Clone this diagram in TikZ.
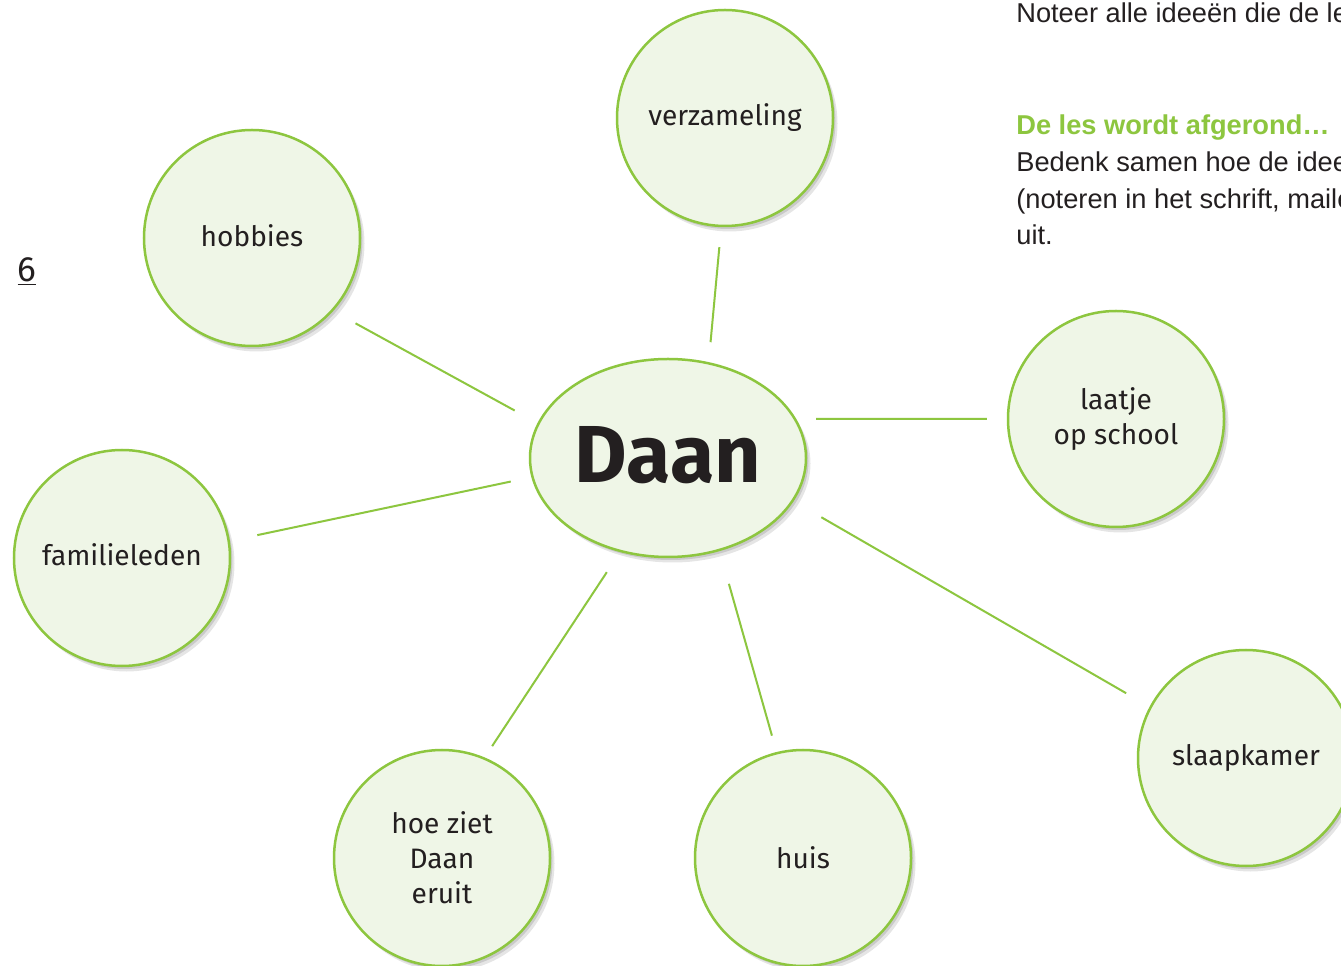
\documentclass[tikz,border=0pt]{standalone}
\usepackage{fontspec}
\setmainfont{Liberation Sans}
\newfontfamily\handfont{Fira Sans}
\usetikzlibrary{shapes.geometric,shadows}
\definecolor{leaf green}{RGB}{141,198,63}
\definecolor{pale green}{RGB}{239,246,231}
\definecolor{ink}{RGB}{35,31,32}

\tikzset{
	softshadow/.style={
		drop shadow={shadow xshift=0.9mm, shadow yshift=-1.1mm, fill=black, opacity=0.10},
		drop shadow={shadow xshift=0.5mm, shadow yshift=-0.6mm, fill=black, opacity=0.12}},
	idea/.style={circle, draw=leaf green, line width=0.5mm, fill=pale green,
		minimum size=43.2mm, inner sep=0pt, softshadow, align=center,
		font=\handfont\fontsize{16}{20}\selectfont, text=ink},
	hub/.style={ellipse, draw=leaf green, line width=0.5mm, fill=pale green,
		minimum width=55.2mm, minimum height=39.6mm, inner sep=0pt, softshadow,
		font=\handfont\bfseries\fontsize{46}{50}\selectfont, text=ink},
	spoke/.style={leaf green, line width=0.4mm},
	bodytext/.style={anchor=base west, inner sep=0pt, text=ink,
		font=\fontsize{15.5}{21}\selectfont}
}

\begin{document}
\begin{tikzpicture}[x=0.2mm, y=-0.2mm]
	\useasboundingbox[fill=white] (0,0) rectangle (1341,966);
	% page number
	\node[inner sep=0pt, font=\handfont\fontsize{20}{24}\selectfont, text=ink] (pagenr) at (27,272) {\underline{6}};
	% text at the top right
	\node[bodytext] (noteer) at (1016,23) {Noteer alle ideeën die de le};
	\node[bodytext, text=leaf green, font=\bfseries\fontsize{15.5}{21}\selectfont] (afgerond) at (1016,135) {De les wordt afgerond…};
	\node[bodytext] (bedenk) at (1016,172) {Bedenk samen hoe de idee};
	\node[bodytext] (noteren) at (1016,209) {(noteren in het schrift, maile};
	\node[bodytext] (uit) at (1016,245) {uit.};
	% centre
	\node[hub] (daan) at (668,458) {\raisebox{1.3mm}{Daan}};
	% ideas round it
	\node[idea] (verzameling) at (725,118) {\raisebox{1.2mm}{verzameling}};
	\node[idea] (hobbies) at (252,238) {\raisebox{1mm}{hobbies}};
	\node[idea] (laatje) at (1116,419) {laatje\\op school};
	\node[idea] (familie) at (122,558) {\raisebox{1.2mm}{familieleden}};
	\node[idea] (uiterlijk) at (442,858) {hoe ziet\\Daan\\eruit};
	\node[idea] (huis) at (803,858) {huis};
	\node[idea] (slaapkamer) at (1246,758) {slaapkamer};
	% spokes
	\draw[spoke, shorten <=4mm, shorten >=4mm] (verzameling.-92) -- (daan.67);
	\draw[spoke, shorten <=5.1mm, shorten >=5.2mm] (hobbies.-42) -- (daan.165);
	\draw[spoke, shorten <=4mm, shorten >=4mm] (laatje.180) -- (daan.17);
	\draw[spoke, shorten <=5.6mm, shorten >=4.2mm] (familie.9) -- (daan.188);
	\draw[spoke, shorten <=2.7mm, shorten >=4.8mm] (uiterlijk.67) -- (daan.-117);
	\draw[spoke, shorten <=3.4mm, shorten >=6.8mm] (huis.104) -- (daan.-61);
	\draw[spoke, shorten <=5.4mm, shorten >=6.4mm] (slaapkamer.152) -- (daan.-19);
\end{tikzpicture}
\end{document}
